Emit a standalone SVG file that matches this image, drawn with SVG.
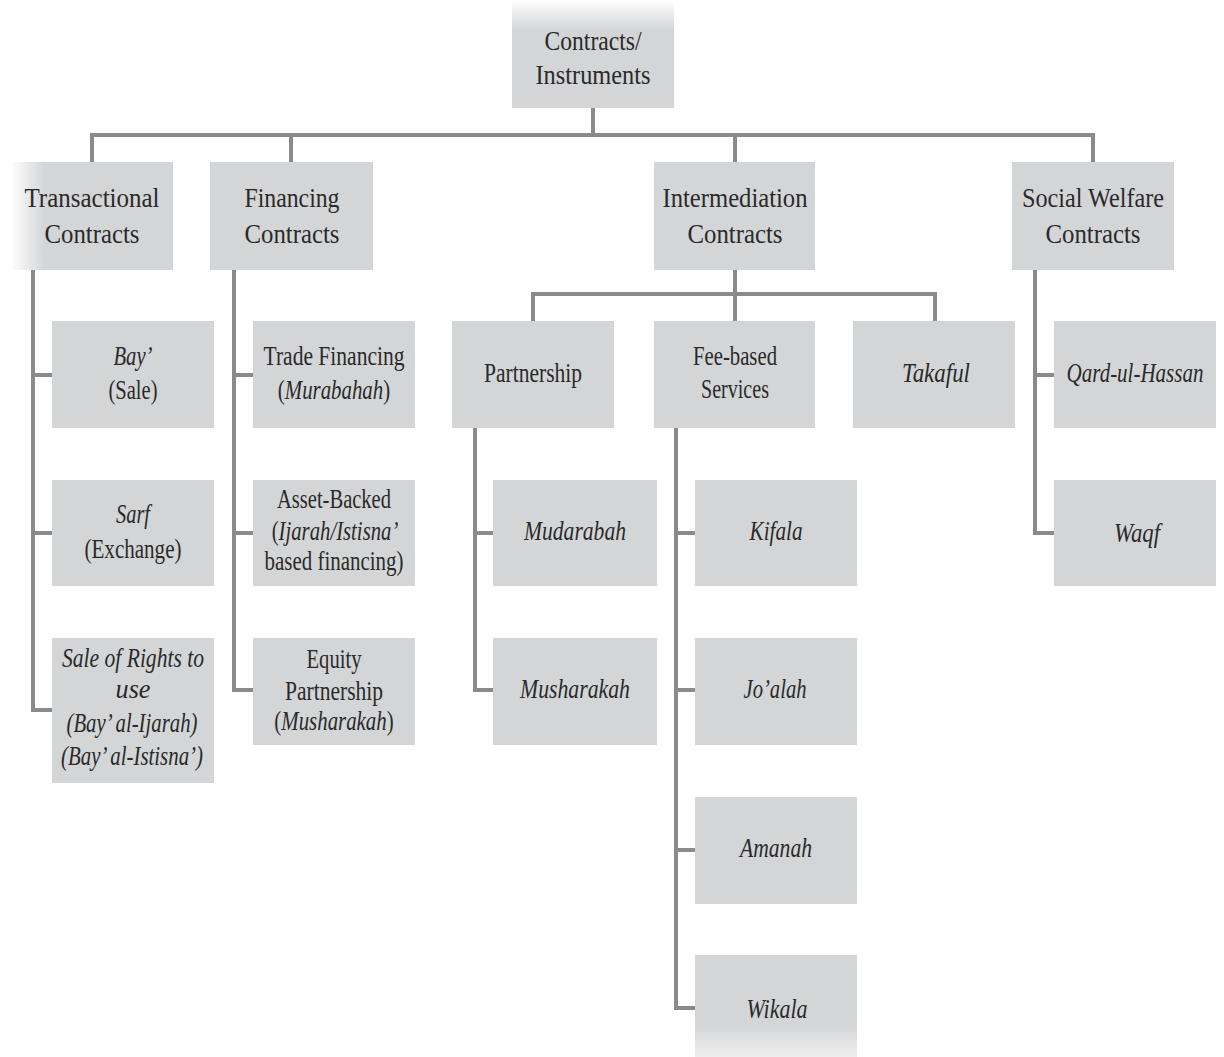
<svg xmlns="http://www.w3.org/2000/svg" width="1224" height="1057" viewBox="0 0 1224 1057">
<defs>
<linearGradient id="gTop" gradientUnits="userSpaceOnUse" x1="0" y1="0" x2="0" y2="30">
<stop offset="0" stop-color="#ffffff"/><stop offset="1" stop-color="#d4d5d7"/>
</linearGradient>
<linearGradient id="gLeft" gradientUnits="userSpaceOnUse" x1="10" y1="0" x2="45" y2="0">
<stop offset="0" stop-color="#ffffff"/><stop offset="1" stop-color="#d4d5d7"/>
</linearGradient>
<linearGradient id="gBot" gradientUnits="userSpaceOnUse" x1="0" y1="1025" x2="0" y2="1057">
<stop offset="0" stop-color="#d4d5d7"/><stop offset="1" stop-color="#eeeeee"/>
</linearGradient>
</defs>
<style>
.box{fill:#d4d5d7}
.ln{fill:none;stroke:#8a8a8a;stroke-width:4}
text{font-family:"Liberation Serif","Times New Roman",serif;font-size:28px;fill:#2a2a2a;text-anchor:middle}
.i{font-style:italic}
</style>
<rect width="1224" height="1057" fill="#ffffff"/>
<g id="connectors">
<path class="ln" d="M593,108V135M92,162V135H1093V162M291,135V162M735,135V162"/>
<path class="ln" d="M33,270V710H52M33,375H52M33,533H52"/>
<path class="ln" d="M234,270V690H253M234,375H253M234,533H253"/>
<path class="ln" d="M735,270V321M533,321V294H935V321"/>
<path class="ln" d="M475,428V690H493M475,533H493"/>
<path class="ln" d="M676,428V1008H695M676,533H695M676,690H695M676,850H695"/>
<path class="ln" d="M1035,270V533H1054M1035,375H1054"/>
</g>
<g id="root"><rect x="512" y="0" width="162" height="108" fill="url(#gTop)"/>
<text x="593" y="50" textLength="97" lengthAdjust="spacingAndGlyphs">Contracts/</text>
<text x="593" y="84" textLength="115" lengthAdjust="spacingAndGlyphs">Instruments</text></g>
<g id="transactional"><rect x="12" y="162" width="161" height="108" fill="url(#gLeft)"/>
<text x="92" y="207" textLength="135" lengthAdjust="spacingAndGlyphs">Transactional</text>
<text x="92" y="243" textLength="95" lengthAdjust="spacingAndGlyphs">Contracts</text></g>
<g id="financing"><rect class="box" x="210" y="162" width="163" height="108"/>
<text x="292" y="207" textLength="95" lengthAdjust="spacingAndGlyphs">Financing</text>
<text x="292" y="243" textLength="95" lengthAdjust="spacingAndGlyphs">Contracts</text></g>
<g id="intermediation"><rect class="box" x="654" y="162" width="161" height="108"/>
<text x="735" y="207" textLength="145" lengthAdjust="spacingAndGlyphs">Intermediation</text>
<text x="735" y="243" textLength="95" lengthAdjust="spacingAndGlyphs">Contracts</text></g>
<g id="social"><rect class="box" x="1012" y="162" width="162" height="108"/>
<text x="1093" y="207" textLength="142" lengthAdjust="spacingAndGlyphs">Social Welfare</text>
<text x="1093" y="243" textLength="95" lengthAdjust="spacingAndGlyphs">Contracts</text></g>
<g id="bay"><rect class="box" x="52" y="321" width="162" height="107"/>
<text class="i" x="133" y="365" textLength="39" lengthAdjust="spacingAndGlyphs">Bay’</text>
<text x="133" y="399" textLength="49" lengthAdjust="spacingAndGlyphs">(Sale)</text></g>
<g id="sarf"><rect class="box" x="52" y="480" width="162" height="106"/>
<text class="i" x="133" y="523" textLength="34" lengthAdjust="spacingAndGlyphs">Sarf</text>
<text x="133" y="558" textLength="97" lengthAdjust="spacingAndGlyphs">(Exchange)</text></g>
<g id="rights"><rect class="box" x="52" y="638" width="162" height="145"/>
<text class="i" x="133" y="667" textLength="142" lengthAdjust="spacingAndGlyphs">Sale of Rights to</text>
<text class="i" x="133" y="698" textLength="35" lengthAdjust="spacingAndGlyphs">use</text>
<text class="i" x="132" y="732" textLength="131" lengthAdjust="spacingAndGlyphs">(Bay’ al-Ijarah)</text>
<text class="i" x="132" y="765" textLength="142" lengthAdjust="spacingAndGlyphs">(Bay’ al-Istisna’)</text></g>
<g id="trade"><rect class="box" x="253" y="321" width="162" height="107"/>
<text x="334" y="365" textLength="141" lengthAdjust="spacingAndGlyphs">Trade Financing</text>
<text transform="translate(334,399) scale(0.745,1)" x="0" y="0">(<tspan class="i">Murabahah</tspan>)</text></g>
<g id="asset"><rect class="box" x="253" y="480" width="162" height="106"/>
<text x="334" y="508" textLength="114" lengthAdjust="spacingAndGlyphs">Asset-Backed</text>
<text transform="translate(335,540) scale(0.74,1)" x="0" y="0">(<tspan class="i">Ijarah/Istisna’</tspan></text>
<text x="334" y="570" textLength="139" lengthAdjust="spacingAndGlyphs">based financing)</text></g>
<g id="equity"><rect class="box" x="253" y="638" width="162" height="107"/>
<text x="334" y="668" textLength="55" lengthAdjust="spacingAndGlyphs">Equity</text>
<text x="334" y="700" textLength="98" lengthAdjust="spacingAndGlyphs">Partnership</text>
<text transform="translate(334,730) scale(0.745,1)" x="0" y="0">(<tspan class="i">Musharakah</tspan>)</text></g>
<g id="partnership"><rect class="box" x="452" y="321" width="162" height="107"/>
<text x="533" y="382" textLength="98" lengthAdjust="spacingAndGlyphs">Partnership</text></g>
<g id="feebased"><rect class="box" x="654" y="321" width="161" height="107"/>
<text x="735" y="365" textLength="84" lengthAdjust="spacingAndGlyphs">Fee-based</text>
<text x="735" y="398" textLength="68" lengthAdjust="spacingAndGlyphs">Services</text></g>
<g id="takaful"><rect class="box" x="853" y="321" width="162" height="107"/>
<text class="i" x="936" y="382" textLength="68" lengthAdjust="spacingAndGlyphs">Takaful</text></g>
<g id="mudarabah"><rect class="box" x="493" y="480" width="164" height="106"/>
<text class="i" x="575" y="540" textLength="102" lengthAdjust="spacingAndGlyphs">Mudarabah</text></g>
<g id="musharakah"><rect class="box" x="493" y="638" width="164" height="107"/>
<text class="i" x="575" y="698" textLength="110" lengthAdjust="spacingAndGlyphs">Musharakah</text></g>
<g id="kifala"><rect class="box" x="695" y="480" width="162" height="106"/>
<text class="i" x="776" y="540" textLength="53" lengthAdjust="spacingAndGlyphs">Kifala</text></g>
<g id="joalah"><rect class="box" x="695" y="638" width="162" height="107"/>
<text class="i" x="775" y="698" textLength="63" lengthAdjust="spacingAndGlyphs">Jo’alah</text></g>
<g id="amanah"><rect class="box" x="695" y="797" width="162" height="107"/>
<text class="i" x="776" y="857" textLength="72" lengthAdjust="spacingAndGlyphs">Amanah</text></g>
<g id="wikala"><rect x="695" y="955" width="162" height="102" fill="url(#gBot)"/>
<text class="i" x="777" y="1018" textLength="61" lengthAdjust="spacingAndGlyphs">Wikala</text></g>
<g id="qard"><rect class="box" x="1054" y="321" width="162" height="107"/>
<text class="i" transform="translate(1135,382) scale(0.75,1)" x="0" y="0">Qard-ul-Hassan</text></g>
<g id="waqf"><rect class="box" x="1054" y="480" width="162" height="106"/>
<text class="i" x="1137" y="542" textLength="46" lengthAdjust="spacingAndGlyphs">Waqf</text></g>
</svg>
